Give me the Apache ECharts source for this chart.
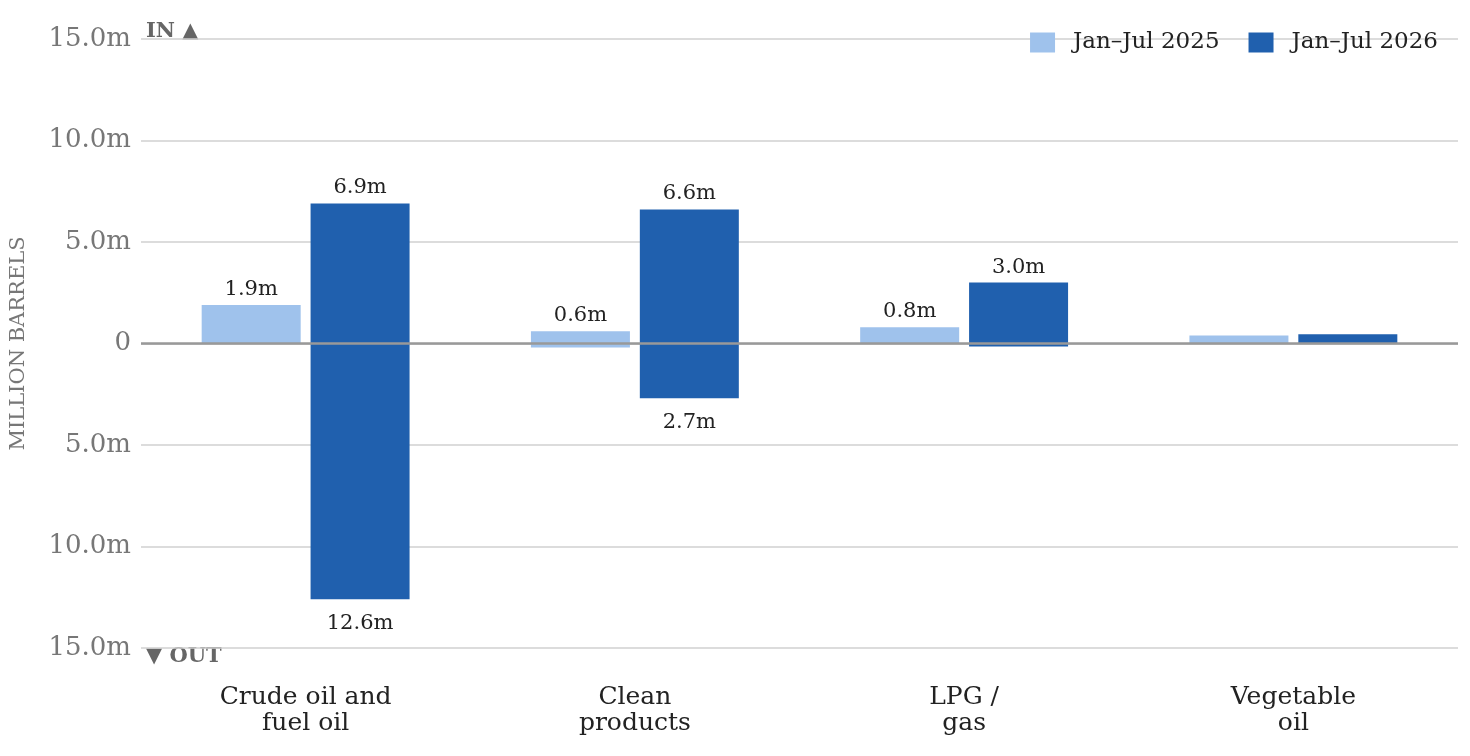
<!DOCTYPE html>
<html><head><meta charset="utf-8">
<script src="https://cdn.jsdelivr.net/npm/echarts@6/dist/echarts.min.js"></script>
<style>html,body{margin:0;padding:0;background:#fff}#c{width:1470px;height:756px}</style>
</head><body><div id="c"></div>
<script>
const categories = ['Crude oil and\nfuel oil', 'Clean\nproducts', 'LPG /\ngas', 'Vegetable\noil'];
const in2025 = [1.9, 0.6, 0.8, 0.4];
const out2025 = [0, -0.2, 0, 0];
const in2026 = [6.9, 6.6, 3.0, 0.45];
const out2026 = [-12.6, -2.7, -0.15, 0];
const yTicks = [-15, -10, -5, 0, 5, 10, 15];

const FONT = 'DejaVu Serif';
const C25 = '#9fc2ec', C26 = '#2060ae';
const fmt = p => Math.abs(p.value) >= 0.5 ? Math.abs(p.value).toFixed(1) + 'm' : '';
function bar(name, stack, data, color, pos, extra) {
  return Object.assign({
    name, type: 'bar', stack, data, barWidth: 99, barGap: '10%',
    itemStyle: { color },
    label: { show: true, position: pos, formatter: fmt, fontFamily: FONT, fontSize: 21, color: '#222',
      distance: pos === 'top' ? 5 : 14 },
    emphasis: { disabled: true }
  }, extra || {});
}
const chart = echarts.init(document.getElementById('c'));
chart.setOption({
  animation: false,
  textStyle: { fontFamily: FONT },
  grid: { left: 139, right: 12, top: 39, bottom: 108 },
  legend: {
    data: ['Jan–Jul 2025', 'Jan–Jul 2026'], right: 27, top: 26, itemWidth: 25, itemHeight: 20, itemGap: 29,
    textStyle: { fontFamily: FONT, fontSize: 23, color: '#222', padding: [0, 0, 0, 13] }, icon: 'rect'
  },
  xAxis: {
    type: 'category', data: categories,
    axisLine: { show: false, onZero: false }, axisTick: { show: false },
    axisLabel: { fontFamily: FONT, fontSize: 25, color: '#222', margin: 36, lineHeight: 26 }
  },
  yAxis: {
    type: 'value', min: yTicks[0], max: yTicks[yTicks.length - 1], interval: 5,
    name: 'MILLION BARRELS', nameLocation: 'middle', nameGap: 112,
    nameTextStyle: { fontFamily: FONT, fontSize: 21, color: '#777' },
    axisLabel: { fontFamily: FONT, fontSize: 26, color: '#777', margin: 10, padding: [3, 0, 0, 0],
      formatter: v => v === 0 ? '0' : Math.abs(v).toFixed(1) + 'm' },
    splitLine: { lineStyle: { color: '#d0d0d0', width: 1.5 } },
    axisLine: { show: false }, axisTick: { show: false }
  },
  series: [
    bar('Jan–Jul 2025', 'y25', in2025, C25, 'top'),
    bar('Jan–Jul 2025', 'y25', out2025, C25, 'bottom'),
    bar('Jan–Jul 2026', 'y26', in2026, C26, 'top'),
    bar('Jan–Jul 2026', 'y26', out2026, C26, 'bottom', {
      markLine: { silent: true, symbol: 'none', label: { show: false },
        lineStyle: { color: '#999', width: 2.5, type: 'solid' }, data: [{ yAxis: 0 }] }
    })
  ],
  graphic: [
    { type: 'text', left: 146, top: 21, style: { text: 'IN ▲', font: 'bold 21px "DejaVu Serif"', fill: '#666' } },
    { type: 'text', left: 146, top: 646, style: { text: '▼ OUT', font: 'bold 21px "DejaVu Serif"', fill: '#666' } }
  ]
});
</script></body></html>
